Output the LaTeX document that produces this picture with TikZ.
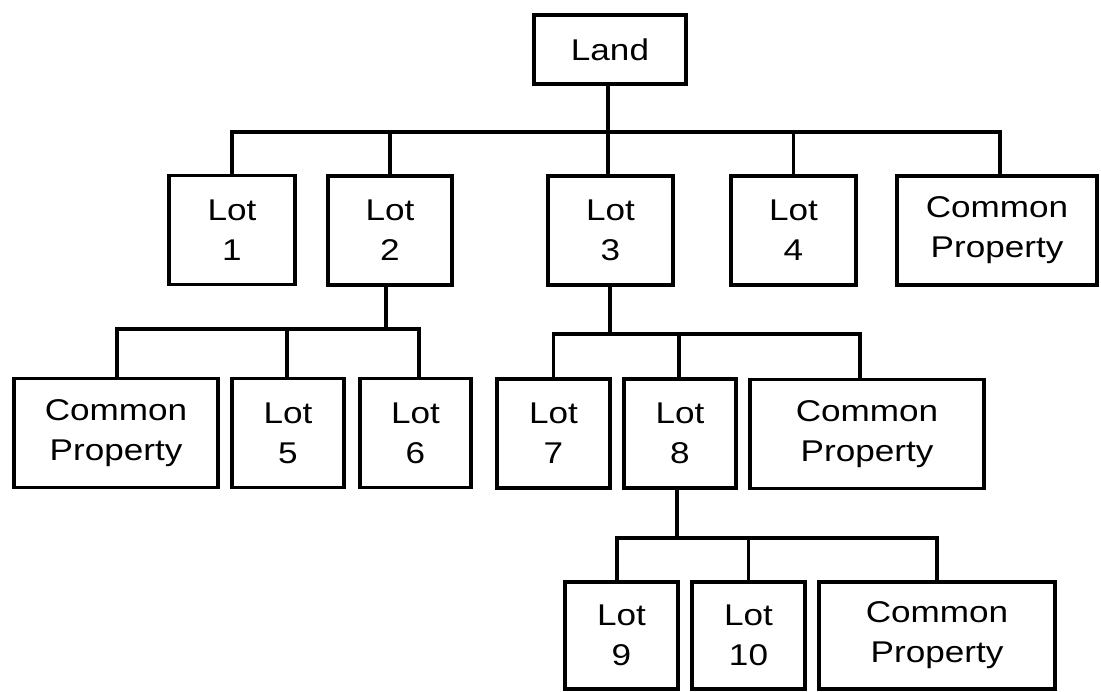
\documentclass[tikz,border=0pt]{standalone}
\usepackage{fontspec}
\setmainfont{Liberation Sans}[FakeStretch=1.17]
\begin{document}
\begin{tikzpicture}[x=1pt,y=-1pt,
  box/.style={draw=black, line width=3.6pt, fill=white, inner sep=0pt,
    minimum height=#1, align=center, text=black,
    font=\fontsize{30}{40}\selectfont},
  box/.default=109pt,
  link/.style={draw=black, line width=3.6pt}]
\useasboundingbox (0,0) rectangle (1101,692);

% top level
\node[box=69.4pt, minimum width=152.4pt] (land) at (610,49.5) {Land};

% first row
\node[box, minimum width=126.4pt] (lot1) at (232,230) {Lot\\1};
\node[box, minimum width=124.4pt] (lot2) at (390,230.5) {Lot\\2};
\node[box, minimum width=125.4pt] (lot3) at (610.5,230.5) {Lot\\3};
\node[box, minimum width=125.4pt] (lot4) at (793.5,230.5) {Lot\\4};
\node[box, minimum width=200.4pt] (cpa) at (997,230.5) {Common\\Property};

% second row, under lot 2
\node[box, minimum width=204.4pt] (cpb) at (116,433) {Common\\Property};
\node[box, minimum width=112.4pt] (lot5) at (288,433) {Lot\\5};
\node[box, minimum width=111.4pt] (lot6) at (415.5,433) {Lot\\6};

% second row, under lot 3
\node[box, minimum width=113.4pt] (lot7) at (553.5,433.5) {Lot\\7};
\node[box, minimum width=112.4pt] (lot8) at (680,433.5) {Lot\\8};
\node[box, minimum width=234.4pt] (cpc) at (867,434) {Common\\Property};

% third row, under lot 8
\node[box=107.4pt, minimum width=113.4pt] (lot9) at (621.5,635.5) {Lot\\9};
\node[box=107.4pt, minimum width=113.4pt] (lot10) at (748.5,635.5) {Lot\\10};
\node[box=107.4pt, minimum width=236.4pt] (cpd) at (937,635.5) {Common\\Property};

% branch points
\coordinate (b1) at (608,132);
\coordinate (b2) at (386,329);
\coordinate (b3) at (610,334);
\coordinate (b4) at (677,538);

% connectors
\draw[link] (land.south -| b1) -- (b1);
\draw[link] (lot1.north) |- (b1);
\draw[link] (lot2.north) |- (b1);
\draw[link] (lot3.north -| b1) -- (b1);
\draw[link] (lot4.north) |- (b1);
\draw[link] ([xshift=3pt]cpa.north) |- (b1);

\draw[link] (lot2.south -| b2) -- (b2);
\draw[link] ([xshift=1pt]cpb.north) |- (b2);
\draw[link] ([xshift=-1pt]lot5.north) |- (b2);
\draw[link] ([xshift=3.5pt]lot6.north) |- (b2);

\draw[link] (lot3.south -| b3) -- (b3);
\draw[link] (lot7.north) |- (b3);
\draw[link] ([xshift=-1pt]lot8.north) |- (b3);
\draw[link] ([xshift=-7pt]cpc.north) |- (b3);

\draw[link] (lot8.south -| b4) -- (b4);
\draw[link] ([xshift=-4.5pt]lot9.north) |- (b4);
\draw[link] (lot10.north) |- (b4);
\draw[link] (cpd.north) |- (b4);
\end{tikzpicture}
\end{document}
